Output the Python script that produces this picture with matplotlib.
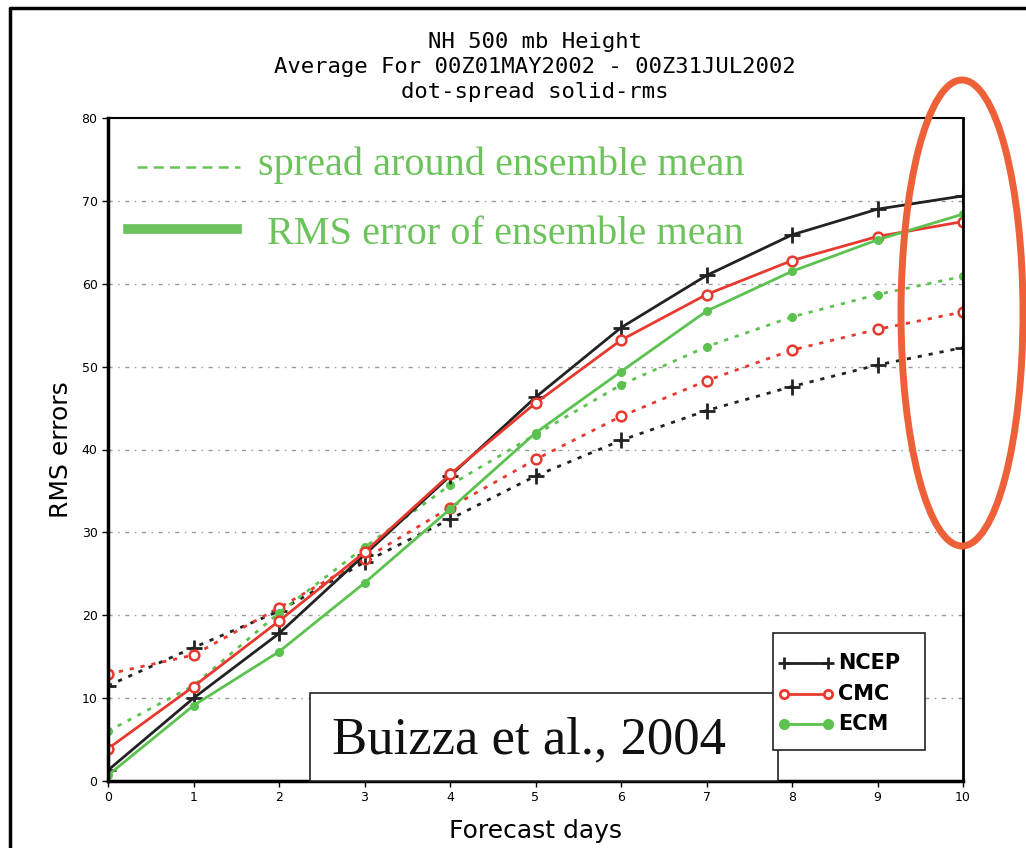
import matplotlib.pyplot as plt
from matplotlib.patches import Ellipse, Rectangle
from matplotlib.lines import Line2D

days = [0, 1, 2, 3, 4, 5, 6, 7, 8, 9, 10]

# RMS error of ensemble mean (solid)
ncep_rms = [1.3, 10.0, 17.8, 27.3, 36.8, 46.3, 54.7, 61.0, 65.9, 69.0, 70.6]
cmc_rms = [3.9, 11.4, 19.3, 27.6, 37.0, 45.6, 53.2, 58.7, 62.8, 65.7, 67.5]
ecm_rms = [0.7, 9.1, 15.6, 23.9, 32.8, 42.0, 49.4, 56.7, 61.5, 65.3, 68.4]

# spread around ensemble mean (dotted)
ncep_spread = [11.5, 16.1, 20.5, 26.4, 31.6, 36.8, 41.1, 44.7, 47.6, 50.2, 52.3]
cmc_spread = [12.9, 15.2, 20.9, 26.8, 33.0, 38.8, 44.0, 48.3, 52.0, 54.5, 56.6]
ecm_spread = [6.0, 11.5, 20.3, 28.2, 35.7, 41.8, 47.8, 52.4, 56.0, 58.7, 60.9]

model_names = ['NCEP', 'CMC', 'ECM']
title_lines = ['NH 500 mb Height',
               'Average For 00Z01MAY2002 - 00Z31JUL2002',
               'dot-spread solid-rms']

BLACK = '#222222'
RED = '#E8392F'
GREEN = '#5CC24F'
LIGHT_GREEN = '#6CC35C'

fig = plt.figure(figsize=(10.26, 8.48), dpi=100)
ax = fig.add_axes([108/1026, 67/848, 855/1026, 663/848])

dot = (0, (1.5, 2.5))

ax.plot(days, ncep_spread, color=BLACK, lw=2, ls=dot, marker='+', ms=11, mew=2)
ax.plot(days, cmc_spread, color=RED, lw=2, ls=dot, marker='o', ms=7, mfc='white', mew=1.8)
ax.plot(days, ecm_spread, color=GREEN, lw=2, ls=dot, marker='o', ms=5, mew=1.5)

ax.plot(days, ncep_rms, color=BLACK, lw=2, marker='+', ms=11, mew=2)
ax.plot(days, cmc_rms, color=RED, lw=2, marker='o', ms=7, mfc='white', mew=1.8)
ax.plot(days, ecm_rms, color=GREEN, lw=2, marker='o', ms=5, mew=1.5)

ax.set_xlim(0, 10)
ax.set_ylim(0, 80)
ax.set_xticks(range(0, 11))
ax.set_yticks(range(0, 81, 10))
ax.tick_params(labelsize=9, length=4, width=1)
for y in range(10, 80, 10):
    ax.axhline(y, color='#999999', lw=1, ls=(0, (3, 4, 1, 4)), zorder=0)

for s in ['left', 'bottom']:
    ax.spines[s].set_linewidth(2.5)
ax.spines['right'].set_linewidth(2)
ax.spines['top'].set_linewidth(1.5)
ax.spines['top'].set_linestyle((0, (4, 1)))

ax.set_xlabel('Forecast days', fontsize=18)
ax.set_ylabel('RMS errors', fontsize=18)
ax.xaxis.set_label_coords(0.5, -0.057)
ax.yaxis.set_label_coords(-0.041, 0.5)

# title
for i, line in enumerate(title_lines):
    fig.text(535/1026, 1 - (42 + 25*i)/848, line, ha='center', va='center',
             fontsize=16, family='DejaVu Sans Mono')

# green annotation in the upper left
fig.add_artist(Line2D([137/1026, 240/1026], [1 - 167/848]*2,
                      color=LIGHT_GREEN, lw=1.8, ls=(0, (4, 2.5))))
fig.text(258/1026, 1 - 165/848, 'spread around ensemble mean', fontsize=29,
         family='Liberation Serif', color=LIGHT_GREEN, va='center')
fig.add_artist(Line2D([128/1026, 237/1026], [1 - 229/848]*2,
                      color=LIGHT_GREEN, lw=7))
fig.text(267/1026, 1 - 234/848, 'RMS error of ensemble mean', fontsize=29,
         family='Liberation Serif', color=LIGHT_GREEN, va='center')

# Buizza box
fig.patches.append(Rectangle((310/1026, 1 - 781/848), 468/1026, 88/848,
                             transform=fig.transFigure, fill=True, fc='white',
                             ec=BLACK, lw=1.2, zorder=5))
fig.text(529/1026, 1 - 740/848, 'Buizza et al., 2004', fontsize=38,
         family='Liberation Serif', color='#111111', ha='center', va='center', zorder=6)

# legend box
fig.patches.append(Rectangle((773/1026, 1 - 750/848), 152/1026, 117/848,
                             transform=fig.transFigure, fill=True, fc='white',
                             ec=BLACK, lw=1.2, zorder=5))
leg_colors = [BLACK, RED, GREEN]
leg_markers = ['+', 'o', 'o']
for i, name in enumerate(model_names):
    yy = 1 - (663 + 30.5*i)/848
    fig.add_artist(Line2D([784/1026, 828/1026], [yy, yy], color=leg_colors[i], lw=2,
                          marker=leg_markers[i], ms=9 if i == 0 else 6,
                          mfc='white' if i == 1 else leg_colors[i], mew=2, zorder=6))
    fig.text(838/1026, yy, name, fontsize=15, fontweight='bold', va='center', zorder=6)

# red ellipse highlighting day 10
fig.patches.append(Ellipse((962/1026, 1 - 313/848), 122/1026, 466/848,
                           transform=fig.transFigure, fill=False, ec='#EE6038', lw=5, zorder=7))

# outer frame
fig.add_artist(Line2D([10/1026, 10/1026, 1], [0, 1 - 8/848, 1 - 8/848], color='black', lw=2.5))

fig.savefig('out.png', dpi=100)
